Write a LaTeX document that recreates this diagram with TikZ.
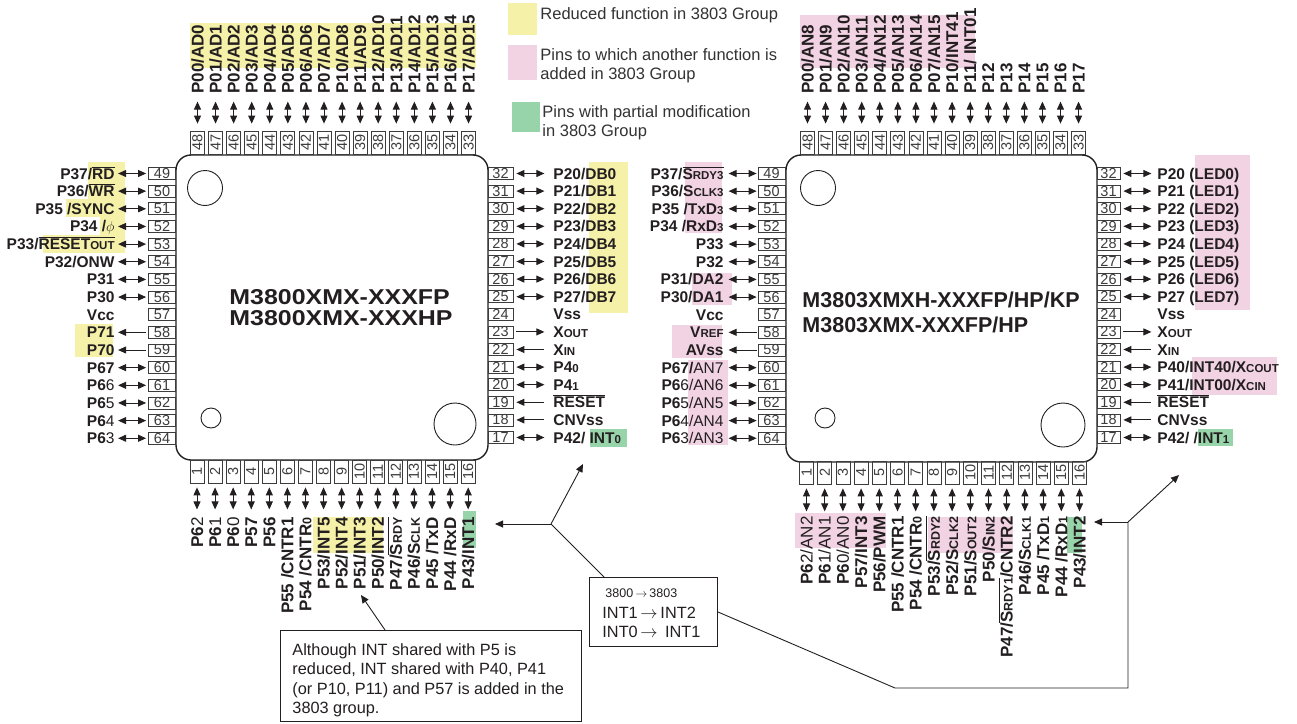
\documentclass[tikz,border=0pt]{standalone}
\usepackage{fontspec}
\usepackage{graphicx}
\setmainfont{Liberation Sans}
\usetikzlibrary{arrows.meta}
\definecolor{ylw}{RGB}{246,241,169}
\definecolor{pnk}{RGB}{242,211,227}
\definecolor{grn}{RGB}{152,212,170}
\definecolor{ink}{RGB}{35,31,32}
\definecolor{gry}{RGB}{60,60,60}
\definecolor{legc}{RGB}{51,51,51}
\newcommand\sm[1]{{\fontsize{11.5}{11.5}\selectfont #1}}
\newcommand\vsm[1]{{\fontsize{12.5}{12.5}\selectfont #1}}
\newcommand\nb[1]{{\mdseries #1}}
\newcommand\ovl[1]{\ensuremath{\overline{\hbox{#1}}}}
\begin{document}
\begin{tikzpicture}[x=1pt,y=-1pt,>={Triangle[length=8pt,width=7pt]},line width=0.9pt,
  lbl/.style={font=\fontsize{15.5}{16}\selectfont\bfseries,inner sep=0pt,text=ink},
  vlbl/.style={font=\fontsize{17}{17}\selectfont\bfseries,inner sep=0pt,text=ink,rotate=90},
  pinbox/.style={draw=gry,line width=0.8pt,inner sep=0pt,font=\fontsize{14.5}{14.5}\selectfont,text=gry},
  hbox/.style={pinbox,minimum width=27pt,minimum height=12pt},
  vbox/.style={pinbox,rotate=90,minimum width=23pt,minimum height=14pt},
  arrd/.style={<->,draw=ink},arrr/.style={->,draw=ink},arrl/.style={<-,draw=ink},arrn/.style={draw=none},
  chip/.style={draw=ink,line width=1.4pt,rounded corners=15pt,inner sep=0pt},
  hole/.style={draw=ink,line width=0.9pt,circle,inner sep=0pt},
  chipname/.style={font=\fontsize{21.5}{23}\selectfont\bfseries,inner sep=0pt,text=ink},
  legtxt/.style={font=\fontsize{16.5}{19}\selectfont,inner sep=0pt,text=legc},
  note/.style={font=\fontsize{16.3}{19}\selectfont,inner sep=0pt,text=ink},
  conn/.style={draw=ink,line width=0.9pt}]
\useasboundingbox (0,0) rectangle (1297,723);
\fill[white] (0,0) rectangle (1297,723);
% ---------- highlights
\fill[ylw] (190,23) rectangle (476,68);
\fill[ylw] (88,162) rectangle (125,199);
\fill[ylw] (66,199) rectangle (125,217);
\fill[ylw] (100,217) rectangle (125,235);
\fill[ylw] (43,235) rectangle (125,253);
\fill[ylw] (75,324) rectangle (113,357);
\fill[ylw] (589,162) rectangle (628,313);
\fill[grn] (590,429) rectangle (627,447);
\fill[ylw] (313,517) rectangle (383,553);
\fill[grn] (463,511) rectangle (476,548);
\fill[pnk] (800,15) rectangle (975,68);
\fill[pnk] (685,162) rectangle (722,233);
\fill[pnk] (692,273) rectangle (732,305);
\fill[pnk] (672,325) rectangle (722,358);
\fill[pnk] (688,360) rectangle (728,445);
\fill[pnk] (1195,155) rectangle (1250,310);
\fill[pnk] (1192,357) rectangle (1277,395);
\fill[grn] (1198,429) rectangle (1233,446);
\fill[pnk] (795,513) rectangle (886,548);
\fill[pnk] (928,517) rectangle (1013,553);
\fill[grn] (1067,517) rectangle (1082,553);
% ---------- legend
\node[fill=ylw,minimum width=29pt,minimum height=32pt,inner sep=0pt,anchor=north west] (kY) at (508,3) {};
\node[legtxt,anchor=base west] (kYt) at (540,19.5) {Reduced function in 3803 Group};
\node[fill=pnk,minimum width=29pt,minimum height=35pt,inner sep=0pt,anchor=north west] (kP) at (508,45) {};
\node[legtxt,anchor=base west] (kPt1) at (540,60) {Pins to which another function is};
\node[legtxt,anchor=base west] (kPt2) at (540,79) {added in 3803 Group};
\node[fill=grn,minimum width=28pt,minimum height=30pt,inner sep=0pt,anchor=north west] (kG) at (512,102) {};
\node[legtxt,anchor=base west] (kGt1) at (542,117) {Pins with partial modification};
\node[legtxt,anchor=base west] (kGt2) at (542,136) {in 3803 Group};
% ================= LEFT CHIP
\node[chip,minimum width=312pt,minimum height=305pt] (chipL) at (332,307.5) {};
\node[hole,minimum size=35pt] (hL1) at (205,188) {};
\node[hole,minimum size=20pt] (hL2) at (211,418) {};
\node[hole,minimum size=42pt] (hL3) at (455,424) {};
\node[chipname,anchor=base west] (nmL1) at (229,304) {\scalebox{1.16}[1]{M3800XMX-XXXFP}};
\node[chipname,anchor=base west] (nmL2) at (229,325) {\scalebox{1.16}[1]{M3800XMX-XXXHP}};
% top
\foreach \t [count=\i from 0] in {{P00/AD0},{P01/AD1},{P02/AD2},{P03/AD3},{P04/AD4},{P05/AD5},{P06/AD6},{P07/AD7},{P10/AD8},{P11/AD9},{P12/AD10},{P13/AD11},{P14/AD12},{P15/AD13},{P16/AD14},{P17/AD15}}{
  \pgfmathsetmacro\xx{197.5+\i*18.07}
  \pgfmathtruncatemacro\pn{48-\i}
  \node[vbox] (LTb\i) at (\xx,142.5) {\pn};
  \node[vlbl,anchor=base west] (LTl\i) at (\xx+6,94) {\t};
  \draw[arrd] ([yshift=7pt]LTb\i.east) -- ++(0,-22);
}
% left
\foreach \a/\t [count=\i from 0] in {d/{P37/\ovl{RD}},d/{P36/\ovl{WR}},d/{P35 /SYNC},d/{P34 /$\phi$},d/{P33/\ovl{RESET\sm{OUT}}},d/{P32/ONW},d/{P31},d/{P30},n/{Vcc},r/{P71},r/{P70},d/{P67},d/{P6\nb{6}},d/{P6\nb{5}},d/{P6\nb{4}},d/{P6\nb{3}}}{
  \pgfmathsetmacro\yy{173.5+\i*17.65}
  \pgfmathtruncatemacro\pn{49+\i}
  \node[hbox] (LLb\i) at (162,\yy) {\pn};
  \node[lbl,anchor=base east] (LLl\i) at (115,\yy+5.5) {\t};
  \draw[arr\a] ([xshift=-2pt]LLb\i.west) -- ++(-28,0);
}
% right
\foreach \a/\t [count=\i from 0] in {d/{P20/DB0},d/{P21/DB1},d/{P22/DB2},d/{P23/DB3},d/{P24/DB4},d/{P25/DB5},d/{P26/DB6},d/{P27/DB7},n/{Vss},r/{X\sm{OUT}},l/{X\sm{IN}},d/{P4\sm{0}},d/{P4\sm{1}},l/{\ovl{RESET}},l/{CNVss},d/{P42/ INT\sm{0}}}{
  \pgfmathsetmacro\yy{173.5+\i*17.6}
  \pgfmathtruncatemacro\pn{32-\i}
  \node[hbox,minimum width=25pt] (LRb\i) at (500.5,\yy) {\pn};
  \node[lbl,anchor=base west] (LRl\i) at (553,\yy+5.5) {\t};
  \draw[arr\a] ([xshift=3pt]LRb\i.east) -- ++(28,0);
}
% bottom
\foreach \t [count=\i from 0] in {{P6\nb{2}},{P6\nb{1}},{P6\nb{0}},{P57},{P56},{P55 /CNTR1},{P54 /CNTR\vsm{0}},{P53/INT5},{P52/INT4},{P51/INT3},{P50/INT2},{P47/\ovl{S\vsm{RDY}}},{P46/S\vsm{CLK}},{P45 /TxD},{P44 /RxD},{P43/INT1}}{
  \pgfmathsetmacro\xx{197+\i*18.08}
  \pgfmathtruncatemacro\pn{1+\i}
  \node[vbox] (LBb\i) at (\xx,471.5) {\pn};
  \node[vlbl,anchor=base east] (LBl\i) at (\xx+6,517) {\t};
  \draw[arrd] ([yshift=-4pt]LBb\i.west) -- ++(0,22);
}
% ================= RIGHT CHIP
\node[chip,minimum width=311pt,minimum height=307pt] (chipR) at (941.5,308.5) {};
\node[hole,minimum size=35pt] (hR1) at (818,188) {};
\node[hole,minimum size=20pt] (hR2) at (825,418) {};
\node[hole,minimum size=44pt] (hR3) at (1063,425) {};
\node[chipname,anchor=base west] (nmR1) at (802,307) {M3803XMXH-XXXFP/HP/KP};
\node[chipname,anchor=base west] (nmR2) at (802,332) {M3803XMX-XXXFP/HP};
% top
\foreach \t [count=\i from 0] in {{P00/AN8},{P01/AN9},{P02/AN10},{P03/AN11},{P04/AN12},{P05/AN13},{P06/AN14},{P07/AN15},{P10/INT41},{P11/ INT01},{P12},{P13},{P14},{P15},{P16},{P17}}{
  \pgfmathsetmacro\xx{807.5+\i*18.07}
  \pgfmathtruncatemacro\pn{48-\i}
  \node[vbox] (RTb\i) at (\xx,142.5) {\pn};
  \node[vlbl,anchor=base west] (RTl\i) at (\xx+6,94) {\t};
  \draw[arrd] ([yshift=7pt]RTb\i.east) -- ++(0,-22);
}
% left
\foreach \a/\t [count=\i from 0] in {d/{P37/\ovl{S\sm{RDY3}}},d/{P36/S\sm{CLK3}},d/{P35 /TxD\sm{3}},d/{P34 /RxD\sm{3}},d/{P33},d/{P32},d/{P31/DA2},d/{P30/DA1},n/{Vcc},r/{V\sm{REF}},r/{AVss},d/{P67/\nb{AN7}},d/{P6\nb{6/AN6}},d/{P6\nb{5/AN5}},d/{P6\nb{4/AN4}},d/{P6\nb{3/AN3}}}{
  \pgfmathsetmacro\yy{173.5+\i*17.65}
  \pgfmathtruncatemacro\pn{49+\i}
  \node[hbox] (RLb\i) at (771.5,\yy) {\pn};
  \node[lbl,anchor=base east] (RLl\i) at (724,\yy+5.5) {\t};
  \draw[arr\a] ([xshift=-1pt]RLb\i.west) -- ++(-28,0);
}
% right
\foreach \a/\t [count=\i from 0] in {d/{P20 (LED0)},d/{P21 (LED1)},d/{P22 (LED2)},d/{P23 (LED3)},d/{P24 (LED4)},d/{P25 (LED5)},d/{P26 (LED6)},d/{P27 (LED7)},n/{Vss},r/{X\sm{OUT}},l/{X\sm{IN}},d/{P40/INT40/X\sm{COUT}},d/{P41/INT00/X\sm{CIN}},l/{\ovl{RESET}},l/{CNVss},d/{P42/ /INT\sm{1}}}{
  \pgfmathsetmacro\yy{173.5+\i*17.6}
  \pgfmathtruncatemacro\pn{32-\i}
  \node[hbox,minimum width=23pt] (RRb\i) at (1108.5,\yy) {\pn};
  \node[lbl,anchor=base west] (RRl\i) at (1157,\yy+5.5) {\t};
  \draw[arr\a] ([xshift=3pt]RRb\i.east) -- ++(28,0);
}
% bottom
\foreach \t [count=\i from 0] in {{P6\nb{2/AN2}},{P6\nb{1/AN1}},{P6\nb{0/AN0}},{P57/INT3},{P56/PWM},{P55 /CNTR1},{P54 /CNTR\vsm{0}},{P53/\ovl{S\vsm{RDY2}}},{P52/S\vsm{CLK2}},{P51/S\vsm{OUT2}},{P50/S\vsm{IN2}},{P47/\ovl{S\vsm{RDY1}}/CNTR2},{P46/S\vsm{CLK1}},{P45 /TxD\vsm{1}},{P44 /RxD\vsm{1}},{P43/INT2}}{
  \pgfmathsetmacro\xx{806.5+\i*18.2}
  \pgfmathtruncatemacro\pn{1+\i}
  \node[vbox] (RBb\i) at (\xx,472.5) {\pn};
  \node[vlbl,anchor=base east] (RBl\i) at (\xx+6,516) {\t};
  \draw[arrd] ([yshift=-4pt]RBb\i.west) -- ++(0,23);
}
% ================= callouts
\node[draw=ink,line width=0.9pt,minimum width=301pt,minimum height=91pt,inner sep=0pt,anchor=north west] (noteA) at (280,630) {};
\node[note,anchor=base west] (noteA1) at (292,655) {Although INT shared with P5 is};
\node[note,anchor=base west] (noteA2) at (292,674.5) {reduced, INT shared with P40, P41};
\node[note,anchor=base west] (noteA3) at (292,694) {(or P10, P11) and P57 is added in the};
\node[note,anchor=base west] (noteA4) at (292,713) {3803 group.};
\coordinate (tgtA) at (361,595);
\draw[conn,->] ([xshift=105pt]noteA.north west) -- (tgtA);

\node[draw=ink,line width=0.9pt,minimum width=128pt,minimum height=69pt,inner sep=0pt,anchor=north west] (noteB) at (589,577) {};
\node[note,font=\fontsize{12.5}{14}\selectfont,anchor=base west] (noteB1) at (605,597) {3800\,$\rightarrow$\,3803};
\node[note,anchor=base west] (noteB2) at (602,618) {INT1\,$\rightarrow$\,INT2};
\node[note,anchor=base west] (noteB3) at (602,637) {INT0\,$\rightarrow$\, INT1};
\coordinate (j1) at (551,524);
\coordinate (tipL1) at (495,524);
\coordinate (tipL2) at (583,464);
\draw[conn] ([xshift=15pt]noteB.north west) -- (j1);
\draw[conn,->] (j1) -- (tipL1);
\draw[conn,->] (j1) -- (tipL2);
\coordinate (k1) at (895,688);
\coordinate (j2) at (1128,522);
\coordinate (tipR1) at (1094,522);
\coordinate (tipR2) at (1179,475);
\draw[conn] (noteB.east) -- (k1) -- (j2 |- k1) -- (j2);
\draw[conn,->] (j2) -- (tipR1);
\draw[conn,->] (j2) -- (tipR2);
\end{tikzpicture}
\end{document}
